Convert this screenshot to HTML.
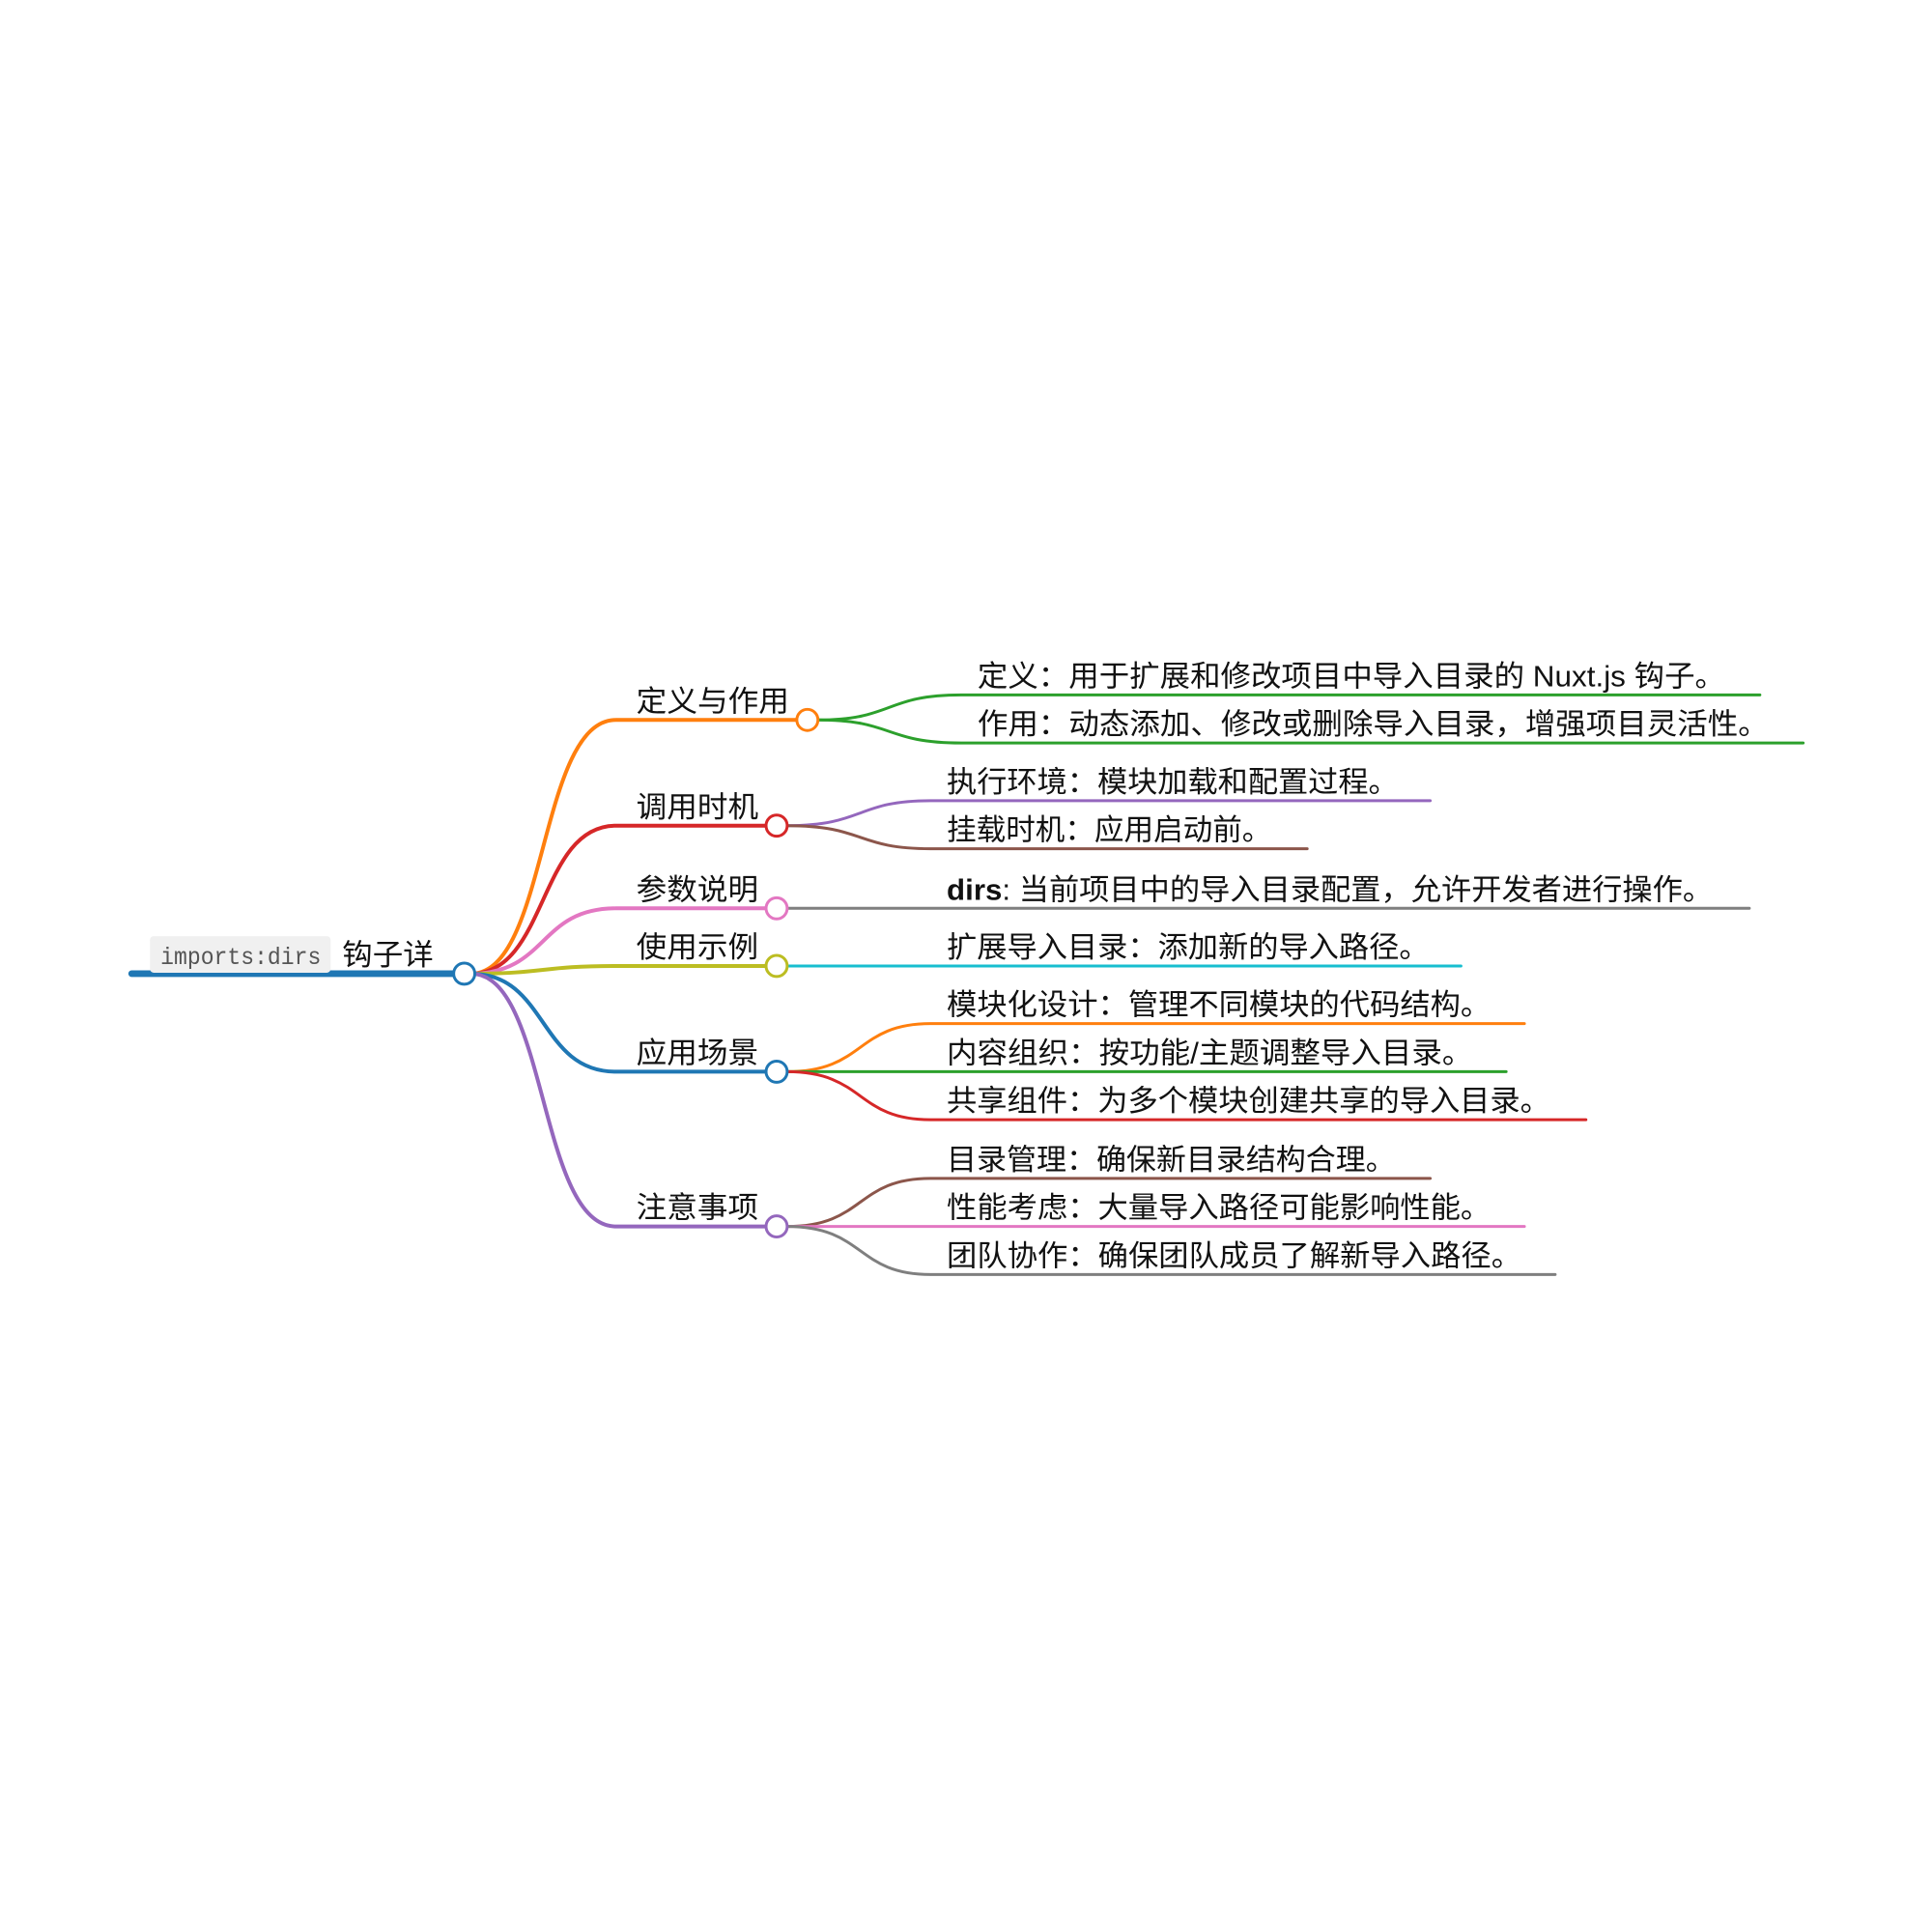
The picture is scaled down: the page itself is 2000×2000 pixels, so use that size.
<!DOCTYPE html>
<html><head><meta charset="utf-8"><style>
html,body{margin:0;padding:0;background:#fff;}
svg{display:block;}
text{font-family:"Liberation Sans","Noto Sans CJK SC",sans-serif;font-size:31px;fill:#111;}
</style></head><body>
<svg width="2000" height="2000" viewBox="0 0 2000 2000" xmlns="http://www.w3.org/2000/svg">
<g transform="scale(0.995)">
<g fill="none" stroke-linecap="round">
<line x1="137" y1="1013" x2="472" y2="1013" stroke="#1f77b4" stroke-width="7"/>
<path d="M490 1013 C570 1013 560 749 641 749 L829 749" stroke="#ff7f0e" stroke-width="4"/>
<path d="M490 1013 C570 1013 560 859 641 859 L797 859" stroke="#d62728" stroke-width="4"/>
<path d="M490 1013 C570 1013 560 945 641 945 L797 945" stroke="#e377c2" stroke-width="4"/>
<path d="M490 1013 C570 1013 560 1005 641 1005 L797 1005" stroke="#bcbd22" stroke-width="4"/>
<path d="M490 1013 C570 1013 560 1115 641 1115 L797 1115" stroke="#1f77b4" stroke-width="4"/>
<path d="M490 1013 C570 1013 560 1276 641 1276 L797 1276" stroke="#9467bd" stroke-width="4"/>
<path d="M851 749 C930 749 920 723 1000 723 L1831 723" stroke="#2ca02c" stroke-width="3"/>
<path d="M851 749 C930 749 920 773 1000 773 L1876 773" stroke="#2ca02c" stroke-width="3"/>
<path d="M819 859 C900 859 890 833 968 833 L1488 833" stroke="#9467bd" stroke-width="3"/>
<path d="M819 859 C900 859 890 883 968 883 L1360 883" stroke="#8c564b" stroke-width="3"/>
<path d="M819 945 L1820 945" stroke="#7f7f7f" stroke-width="3"/>
<path d="M819 1005 L1520 1005" stroke="#17becf" stroke-width="3"/>
<path d="M819 1115 C900 1115 890 1065 968 1065 L1586 1065" stroke="#ff7f0e" stroke-width="3"/>
<path d="M819 1115 L1567 1115" stroke="#2ca02c" stroke-width="3"/>
<path d="M819 1115 C900 1115 890 1165 968 1165 L1650 1165" stroke="#d62728" stroke-width="3"/>
<path d="M819 1276 C900 1276 890 1226 968 1226 L1488 1226" stroke="#8c564b" stroke-width="3"/>
<path d="M819 1276 L1586 1276" stroke="#e377c2" stroke-width="3"/>
<path d="M819 1276 C900 1276 890 1326 968 1326 L1618 1326" stroke="#7f7f7f" stroke-width="3"/>
</g>
<g fill="#fff" stroke-width="3">
<circle cx="483" cy="1013" r="11" stroke="#1f77b4"/>
<circle cx="840" cy="749" r="11" stroke="#ff7f0e"/>
<circle cx="808" cy="859" r="11" stroke="#d62728"/>
<circle cx="808" cy="945" r="11" stroke="#e377c2"/>
<circle cx="808" cy="1005" r="11" stroke="#bcbd22"/>
<circle cx="808" cy="1115" r="11" stroke="#1f77b4"/>
<circle cx="808" cy="1276" r="11" stroke="#9467bd"/>
</g>
<rect x="156" y="974" width="188" height="38" rx="4" fill="#f0f0f0"/>
<text x="167" y="1003" style="font-family:'Liberation Mono',monospace;font-size:25px;fill:#555" textLength="167" lengthAdjust="spacingAndGlyphs">imports:dirs</text>
<text x="356" y="1004" textLength="95" lengthAdjust="spacingAndGlyphs">钩子详</text>
<text x="662" y="740" textLength="159" lengthAdjust="spacingAndGlyphs">定义与作用</text>
<text x="662" y="850" textLength="127" lengthAdjust="spacingAndGlyphs">调用时机</text>
<text x="662" y="936" textLength="127" lengthAdjust="spacingAndGlyphs">参数说明</text>
<text x="662" y="996" textLength="127" lengthAdjust="spacingAndGlyphs">使用示例</text>
<text x="662" y="1106" textLength="127" lengthAdjust="spacingAndGlyphs">应用场景</text>
<text x="662" y="1267" textLength="127" lengthAdjust="spacingAndGlyphs">注意事项</text>
<text x="1017" y="714" textLength="778" lengthAdjust="spacingAndGlyphs">定义：用于扩展和修改项目中导入目录的 Nuxt.js 钩子。</text>
<text x="1017" y="764" textLength="823" lengthAdjust="spacingAndGlyphs">作用：动态添加、修改或删除导入目录，增强项目灵活性。</text>
<text x="985" y="824" textLength="470" lengthAdjust="spacingAndGlyphs">执行环境：模块加载和配置过程。</text>
<text x="985" y="874" textLength="338" lengthAdjust="spacingAndGlyphs">挂载时机：应用启动前。</text>
<text x="985" y="936" textLength="797" lengthAdjust="spacingAndGlyphs"><tspan style="font-weight:bold">dirs</tspan>: 当前项目中的导入目录配置，允许开发者进行操作。</text>
<text x="985" y="996" textLength="502" lengthAdjust="spacingAndGlyphs">扩展导入目录：添加新的导入路径。</text>
<text x="985" y="1056" textLength="566" lengthAdjust="spacingAndGlyphs">模块化设计：管理不同模块的代码结构。</text>
<text x="985" y="1106" textLength="547" lengthAdjust="spacingAndGlyphs">内容组织：按功能/主题调整导入目录。</text>
<text x="985" y="1156" textLength="628" lengthAdjust="spacingAndGlyphs">共享组件：为多个模块创建共享的导入目录。</text>
<text x="985" y="1217" textLength="467" lengthAdjust="spacingAndGlyphs">目录管理：确保新目录结构合理。</text>
<text x="985" y="1267" textLength="566" lengthAdjust="spacingAndGlyphs">性能考虑：大量导入路径可能影响性能。</text>
<text x="985" y="1317" textLength="598" lengthAdjust="spacingAndGlyphs">团队协作：确保团队成员了解新导入路径。</text>
</g>
</svg>
</body></html>
